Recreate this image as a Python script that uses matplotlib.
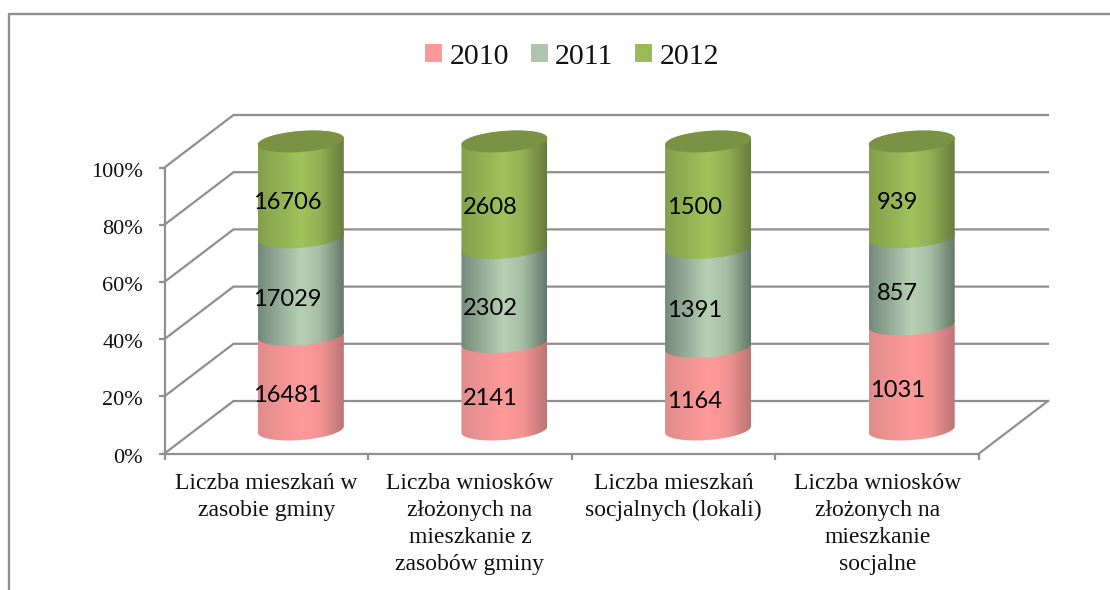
import numpy as np
import matplotlib
matplotlib.use('Agg')
import matplotlib.pyplot as plt
from matplotlib.colors import LinearSegmentedColormap
from matplotlib.lines import Line2D
from matplotlib.patches import Patch, Polygon
from matplotlib.transforms import ScaledTranslation

# Values
categories = ['Liczba mieszkań w\nzasobie gminy',
              'Liczba wniosków\nzłożonych na\nmieszkanie z\nzasobów gminy',
              'Liczba mieszkań\nsocjalnych (lokali)',
              'Liczba wniosków\nzłożonych na\nmieszkanie\nsocjalne']
years = ['2010', '2011', '2012']
values_2010 = [16481, 2141, 1164, 1031]
values_2011 = [17029, 2302, 1391, 857]
values_2012 = [16706, 2608, 1500, 939]
percent_ticks = [0, 20, 40, 60, 80, 100]

# Colours per series: legend colour, then left / middle / right of the cylinder
legend_colors = ['#FF9999', '#AFC5AD', '#9BBB59']
shades = [['#E08C8C', '#FF9A9A', '#F59494', '#BC7575'],
          ['#748B7B', '#B7D0B5', '#A6BEA4', '#64796A'],
          ['#84A04A', '#A0C25C', '#92B054', '#687D3C']]
top_color = '#7B9245'
grid_color = '#8F8F8F'
serif = 'Liberation Serif'
label_font = 'Lato'

W, H = 1110, 590
LEFT, RIGHT, TOP, BOTTOM = 164.5, 979, 167.5, 453.5

fig = plt.figure(figsize=(W / 100, H / 100), dpi=100)
ax = fig.add_axes([LEFT / W, 1 - BOTTOM / H, (RIGHT - LEFT) / W, (BOTTOM - TOP) / H])
ax.set_xlim(0, len(categories))
ax.set_ylim(0, 100)
px_x = (RIGHT - LEFT) / len(categories)  # pixels per category
px_y = (BOTTOM - TOP) / 100              # pixels per percent

# Depth of the fake 3D box
depth_x = 69 / px_x
depth_y = 52.5 / px_y

# Outer chart frame, only left and top show
fig.add_artist(Line2D([8.5 / W, 8.5 / W, 1], [0, 1 - 14 / H, 1 - 14 / H],
                      color='#8F8F8F', lw=1.7))

# Walls
for p in percent_ticks:
    ax.plot([0, depth_x, len(categories) + depth_x], [p, p + depth_y, p + depth_y],
            color=grid_color, lw=1.6, clip_on=False, zorder=1, solid_joinstyle='miter')
ax.plot([len(categories), len(categories) + depth_x], [0, depth_y],
        color=grid_color, lw=1.6, clip_on=False, zorder=1)

# Axes lines and ticks
for s in ['top', 'right']:
    ax.spines[s].set_visible(False)
for s in ['left', 'bottom']:
    ax.spines[s].set_color(grid_color)
    ax.spines[s].set_linewidth(1.6)
ax.set_yticks(percent_ticks)
ax.set_yticklabels([f'{p}%' for p in percent_ticks], family=serif, fontsize=16, color='#111111')
ax.set_xticks(range(len(categories) + 1))
ax.set_xticklabels([])
ax.set_xticks(np.arange(len(categories)) + 0.5, minor=True)
ax.set_xticklabels(categories, minor=True, family=serif, fontsize=17, color='#111111',
                   linespacing=1.37, va='top')
ax.tick_params(axis='y', length=4.5, width=1.6, color=grid_color, pad=11)
ax.tick_params(axis='x', which='major', length=4.5, width=1.6, color=grid_color)
ax.tick_params(axis='x', which='minor', length=0, pad=14)

# y labels sit a little lower than the ticks
nudge = ScaledTranslation(0, -1.5 / 72, fig.dpi_scale_trans)
for label in ax.get_yticklabels():
    label.set_transform(label.get_transform() + nudge)

# Cylinders
half_w = 43 / px_x
ell_b = 10.5 / px_y
ell_s = 3.2 / px_y
base = 8.4
height = 100.7


def arc(cx, cy, t0, t1):
    t = np.linspace(t0, t1, 60)
    return np.column_stack([cx + half_w * np.cos(t),
                            cy + ell_s * np.cos(t) + ell_b * np.sin(t)])


series = np.array([values_2010, values_2011, values_2012], dtype=float)
shares = series / series.sum(axis=0)
tops = np.cumsum(shares, axis=0)
grad = np.linspace(0, 1, 172)[None, :]

for i in range(len(categories)):
    cx = i + 0.5 + depth_x / 2
    for j in range(len(years)):
        y0 = base + height * (tops[j, i] - shares[j, i])
        y1 = base + height * tops[j, i]
        outline = np.vstack([arc(cx, y0, np.pi, 2 * np.pi), arc(cx, y1, 0, np.pi)])
        clip = Polygon(outline, closed=True, transform=ax.transData)
        cmap = LinearSegmentedColormap.from_list(
            years[j], list(zip([0, 0.5, 0.72, 1], shades[j])))
        im = ax.imshow(grad, cmap=cmap, aspect='auto', zorder=3 + j,
                       extent=[cx - half_w, cx + half_w, y0 - 2 * ell_b, y1 + 2 * ell_b])
        im.set_clip_box(fig.bbox)
        im.set_clip_path(clip)
        ax.annotate(f'{int(series[j, i])}', (cx, (y0 + y1) / 2), xytext=(-10, -9.5),
                    textcoords='offset points', ha='center', va='center',
                    family=label_font, fontsize=17, color='black', zorder=10,
                    annotation_clip=False)
    ax.add_patch(Polygon(arc(cx, base + height, 0, 2 * np.pi), closed=True,
                         facecolor=top_color, edgecolor='none', clip_on=False, zorder=8))

# imshow resets the limits
ax.set_xlim(0, len(categories))
ax.set_ylim(0, 100)

handles = [Patch(facecolor=c, edgecolor='none') for c in legend_colors]
fig.legend(handles, years, ncol=3, frameon=False, loc='center', bbox_to_anchor=(572 / W, 1 - 56.5 / H),
           prop={'family': serif, 'size': 21.5}, handlelength=0.58, handleheight=0.58,
           handletextpad=0.24, columnspacing=0.72, labelcolor='#111111')

fig.savefig('out.png', dpi=100)
